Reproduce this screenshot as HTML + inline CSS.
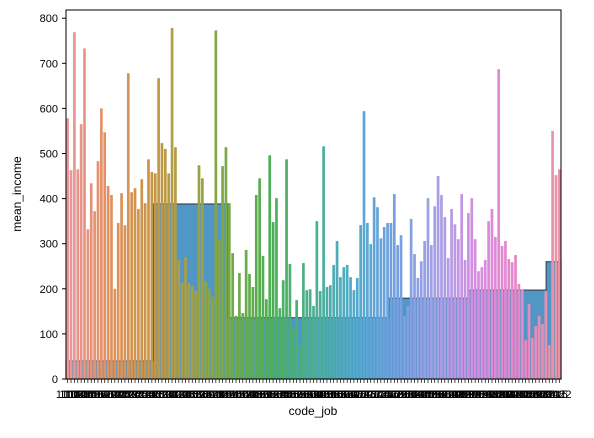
<!DOCTYPE html>
<html><head><meta charset="utf-8">
<style>
body{margin:0;background:#fff;}
svg text{font-family:"Liberation Sans","DejaVu Sans",sans-serif;font-size:11px;fill:#000;}
</style></head>
<body>
<svg id="chart" width="594" height="433" viewBox="0 0 594 433" xmlns="http://www.w3.org/2000/svg">
<rect x="0" y="0" width="594" height="433" fill="#fff"/>
<g id="steps"></g>
<g id="bars"></g>
<g id="axes"></g>
</svg>
<script>
const values=[578,463,769,465,565,733,332,434,372,483,600,547,428,408,200,346,412,341,678,414,423,377,443,390,487,459,456,667,523,510,456,778,514,264,213,270,213,206,195,474,445,217,200,182,773,310,472,514,390,279,140,235,
146,286,233,204,408,445,273,177,496,348,401,157,219,487,255,115,175,75,257,197,199,162,350,195,516,204,208,253,306,226,248,253,226,197,224,341,594,346,299,403,381,312,337,346,346,410,297,
319,140,162,355,277,224,261,306,401,297,383,450,408,359,268,377,343,310,410,264,368,401,310,239,248,264,350,377,315,687,295,306,266,259,275,211,199,86,166,91,117,140,122,195,75,550,452,465];
const stepStarts=[0,0.177,0.328,0.652,0.812,0.970];
const stepLevels=[40,388,136,179,197,260];
const yTicks=[0,100,200,300,400,500,600,700,800];

const X0=66,X1=561,Y0=379,PX=0.451;
const ns="http://www.w3.org/2000/svg";
const svg=document.getElementById('chart');
function yS(v){return Y0-v*PX;}
function xF(f){return X0+f*(X1-X0);}
const n=values.length, step=(X1-X0)/n;
function xB(i){return X0+i*step;}
function mk(t,a,p){const e=document.createElementNS(ns,t);for(const k in a)e.setAttribute(k,a[k]);p.appendChild(e);return e;}

const anchors=[[234,150,155],[226,145,95],[200,150,70],[165,160,70],[115,170,70],[75,175,85],[75,175,145],[80,170,205],[115,160,225],[165,160,230],[215,140,225],[230,135,200],[232,148,165]];
function col(f){const p=f*(anchors.length-1);const i=Math.min(Math.floor(p),anchors.length-2);const t=p-i;const a=anchors[i],b=anchors[i+1];return 'rgb('+[0,1,2].map(k=>Math.round(a[k]+(b[k]-a[k])*t)).join(',')+')';}

const sg=document.getElementById('steps');
let d='M'+X0+','+Y0;
for(let i=0;i<stepLevels.length;i++){
  const xa=xF(stepStarts[i]), xb=i+1<stepStarts.length?xF(stepStarts[i+1]):X1;
  d+=' L'+xa+','+yS(stepLevels[i])+' L'+xb+','+yS(stepLevels[i]);
}
d+=' L'+X1+','+Y0+' Z';
const sp=mk('path',{d:d,fill:'#5197c5',stroke:'#3d4d5c','stroke-width':1.2},sg);



const bg=document.getElementById('bars');
values.forEach((v,i)=>{
  const r=mk('rect',{x:xB(i)+step*0.1,y:yS(v),width:step*0.8,height:v*PX,fill:col(i/(n-1))},bg);
  
  
});

const ag=document.getElementById('axes');
const fr=mk('rect',{x:X0,y:10,width:X1-X0,height:Y0-10,fill:'none',stroke:'#000','stroke-width':1},ag);


yTicks.forEach(t=>{
  mk('line',{x1:X0-4,x2:X0,y1:yS(t),y2:yS(t),stroke:'#000'},ag);
  const tx=mk('text',{x:X0-8,y:yS(t)+4,'text-anchor':'end'},ag);
  tx.textContent=t;
  
  
});
for(let i=0;i<n;i++){mk('line',{x1:xB(i)+step/2,x2:xB(i)+step/2,y1:Y0,y2:Y0+4,stroke:'#000','stroke-width':0.7},ag);}
for(let i=0;i<n;i+=1){
  const tx=mk('text',{x:xB(i)+step/2,y:Y0+19,'text-anchor':'middle'},ag);
  tx.textContent=String(1100+i*7);
  
  
}
const xl=mk('text',{x:313,y:415,'text-anchor':'middle'},ag);
xl.textContent='code_job';xl.style.fontSize='12px';


const yl=mk('text',{x:21,y:194,'text-anchor':'middle',transform:'rotate(-90 21 194)'},ag);
yl.textContent='mean_income';yl.style.fontSize='12px';


</script>
</body></html>
